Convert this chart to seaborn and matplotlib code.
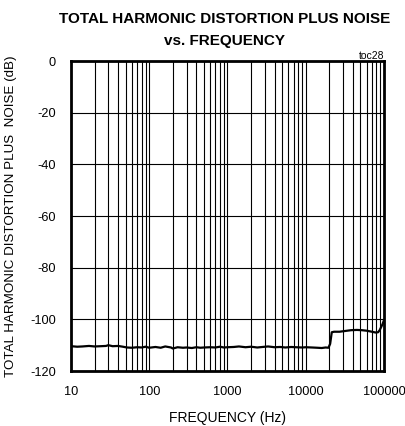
import matplotlib
matplotlib.use('Agg')
import matplotlib.pyplot as plt
import seaborn as sns
import pandas as pd
from matplotlib.ticker import FixedLocator, NullFormatter

# valores
freq = [10, 12, 14, 17, 20, 24, 28, 30, 34, 40, 46, 52, 60, 70, 80, 90, 100, 120, 140,
        160, 190, 200, 230, 270, 300, 350, 400, 450, 500, 600, 700, 800, 900, 1000, 1200,
        1400, 1700, 2000, 2400, 2800, 3300, 4000, 4700, 5500, 6500, 7500, 9000, 10000,
        12000, 14000, 16000, 18000, 19500, 20500, 21500, 23000, 27000, 32000, 38000,
        45000, 52000, 60000, 70000, 78000, 84000, 88000, 92000, 96000, 100000]
thd = [-110.4, -110.6, -110.5, -110.3, -110.5, -110.4, -110.3, -110.0, -110.4, -110.3,
       -110.6, -110.9, -111.0, -110.8, -110.9, -110.6, -111.0, -110.7, -111.0, -110.5,
       -110.9, -111.3, -110.8, -111.0, -110.9, -111.1, -110.8, -111.0, -110.9, -110.8,
       -110.9, -110.6, -110.9, -110.8, -110.7, -110.5, -110.8, -110.6, -110.9, -110.7,
       -110.5, -110.8, -110.7, -110.9, -110.7, -110.8, -110.9, -110.8, -110.9, -111.0,
       -111.1, -110.9, -111.0, -109.5, -105.0, -104.8, -104.8, -104.5, -104.2, -104.1,
       -104.2, -104.4, -104.8, -105.1, -105.0, -104.2, -103.0, -101.8, -100.3]

df = pd.DataFrame({'freq': freq, 'thd': thd})

plt.rcParams['font.family'] = ['Liberation Sans', 'DejaVu Sans']

fig = plt.figure(figsize=(4.06, 4.26), dpi=100)
ax = fig.add_axes([71/406, 55/426, 313/406, 310/426])

sns.lineplot(data=df, x='freq', y='thd', ax=ax, color='black', linewidth=1.6)

ax.set_xscale('log')
ax.set_xlim(10, 100000)
ax.set_ylim(-120, 0)
ax.set_xticks([10, 100, 1000, 10000, 100000])
ax.set_xticklabels(['10', '100', '1000', '10000', '100000'])
ax.set_yticks([0, -20, -40, -60, -80, -100, -120])
ax.set_yticklabels(['0', '-20', '-40', '-60', '-80', '-100', '-120'])
minors = [m * 10**d for d in range(1, 5) for m in range(2, 10)]
ax.xaxis.set_minor_locator(FixedLocator(minors))
ax.xaxis.set_minor_formatter(NullFormatter())
ax.grid(True, which='major', axis='both', color='black', linewidth=0.8)
ax.grid(True, which='minor', axis='x', color='black', linewidth=0.8)
ax.tick_params(which='both', length=0, labelsize=9.2)
ax.tick_params(axis='x', pad=11)
ax.tick_params(axis='y', pad=11)
for s in ax.spines.values():
    s.set_linewidth(2)
    s.set_color('black')

ax.set_xlabel('FREQUENCY (Hz)', fontsize=10, labelpad=9)
ax.set_ylabel('TOTAL HARMONIC DISTORTION PLUS  NOISE (dB)', fontsize=9.6, labelpad=9)
fig.text(225/406, 1 - 30/426, 'TOTAL HARMONIC DISTORTION PLUS NOISE\nvs. FREQUENCY',
         ha='center', va='center', fontsize=11, fontweight='bold', linespacing=1.65)
fig.text(384/406, 1 - 56/426, 'toc28', ha='right', va='center', fontsize=7.5)

plt.savefig('out.png', dpi=100)
